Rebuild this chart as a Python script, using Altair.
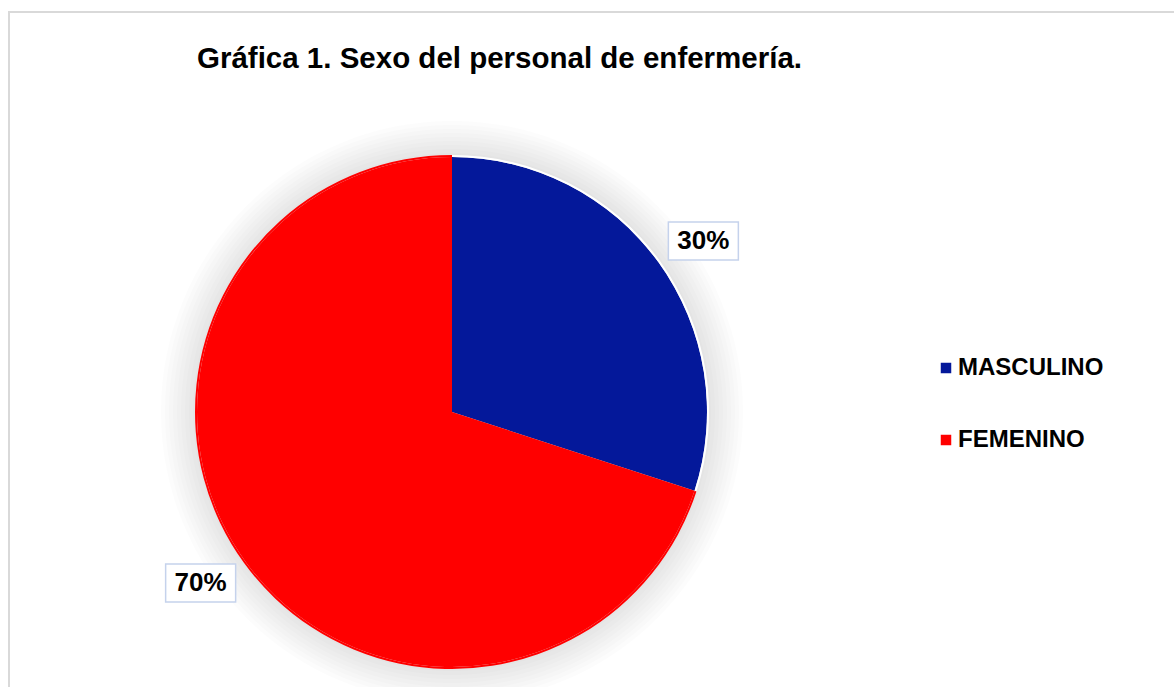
import altair as alt
import pandas as pd

# ---- data ----
categorias = ["MASCULINO", "FEMENINO"]
valores = [30, 70]
etiquetas = ["30%", "70%"]
colores = ["#04189A", "#FF0000"]

df = pd.DataFrame({
    "sexo": categorias,
    "valor": valores,
    "etiqueta": etiquetas,
    "orden": list(range(len(categorias))),
})

CX, CY, R = 452, 412, 255
R_LABEL = 304
ANG_SHIFT = 0.031           # Excel-style label placement offset (radians)
FONT = "Liberation Sans"

base = alt.Chart(df)
one = pd.DataFrame({"a": [0]})

# soft shadow around the pie (decoration)
shadow_layers = [
    alt.Chart(one).mark_arc(
        radius=R + 4 * k, theta=0, theta2=6.2832, color="#808080", opacity=0.022
    ).encode(x=alt.value(CX), y=alt.value(CY))
    for k in range(1, 10)
]

color_enc = alt.Color(
    "sexo:N",
    scale=alt.Scale(domain=categorias, range=colores),
    legend=alt.Legend(
        title=None,
        orient="none",
        legendX=934,
        legendY=356,
        symbolType="square",
        symbolSize=110,
        symbolStrokeWidth=0,
        labelFont=FONT,
        labelFontSize=24,
        labelFontWeight="bold",
        labelColor="#000000",
        labelOffset=0,
        rowPadding=48,
    ),
)

pie = base.mark_arc(radius=R).encode(
    x=alt.value(CX), y=alt.value(CY),
    theta=alt.Theta("valor:Q", stack=True),
    order=alt.Order("orden:Q"),
    color=color_enc,
)

# thin white rim on the blue slice
rim = base.mark_arc(radius=R + 2, radius2=R).encode(
    x=alt.value(CX), y=alt.value(CY),
    theta=alt.Theta("valor:Q", stack=True),
    order=alt.Order("orden:Q"),
    color=alt.condition(alt.datum.sexo == "MASCULINO", alt.value("#ffffff"), alt.value("#FF0000")),
)

lab = base.transform_window(
    acum="sum(valor)", sort=[alt.SortField("orden")],
    frame=[None, 0],
).transform_joinaggregate(
    total="sum(valor)"
).transform_calculate(
    ang=f"(datum.acum - datum.valor / 2) / datum.total * 2 * PI + {ANG_SHIFT}",
).transform_calculate(
    px=f"{CX} + {R_LABEL} * sin(datum.ang)",
    py=f"{CY} - {R_LABEL} * cos(datum.ang)",
)

boxes = lab.mark_point(
    shape="M-1,-0.543L1,-0.543L1,0.543L-1,0.543Z",
    size=4900, filled=True, fill="#ffffff", stroke="#c5d2ec",
    strokeWidth=1.5, opacity=1,
).encode(
    x=alt.X("px:Q", scale=None, axis=None),
    y=alt.Y("py:Q", scale=None, axis=None),
)

texts = lab.mark_text(
    font=FONT, fontSize=26, fontWeight="bold", color="#000000",
    align="center", baseline="middle",
).encode(
    x=alt.X("px:Q", scale=None, axis=None),
    y=alt.Y("py:Q", scale=None, axis=None),
    text="etiqueta:N",
)

frame = alt.Chart(one).mark_rect(
    fill=None, fillOpacity=0, stroke="#d9d9d9", strokeWidth=2
).encode(
    x=alt.value(9), x2=alt.value(1190), y=alt.value(12), y2=alt.value(700)
)

chart = alt.layer(frame, *shadow_layers, pie, rim, boxes, texts).properties(
    width=1174,
    height=687,
    padding=0,
    autosize=alt.AutoSizeParams(type="none"),
    background="#ffffff",
    title=alt.Title(
        "Gráfica 1. Sexo del personal de enfermería.",
        anchor="start", frame="group", dx=197, dy=101, offset=4,
        baseline="alphabetic",
        font=FONT, fontSize=29.5, fontWeight="bold", color="#000000",
    ),
).configure_view(stroke=None)

chart.save("out.html", embed_options={"renderer": "svg", "actions": False})
